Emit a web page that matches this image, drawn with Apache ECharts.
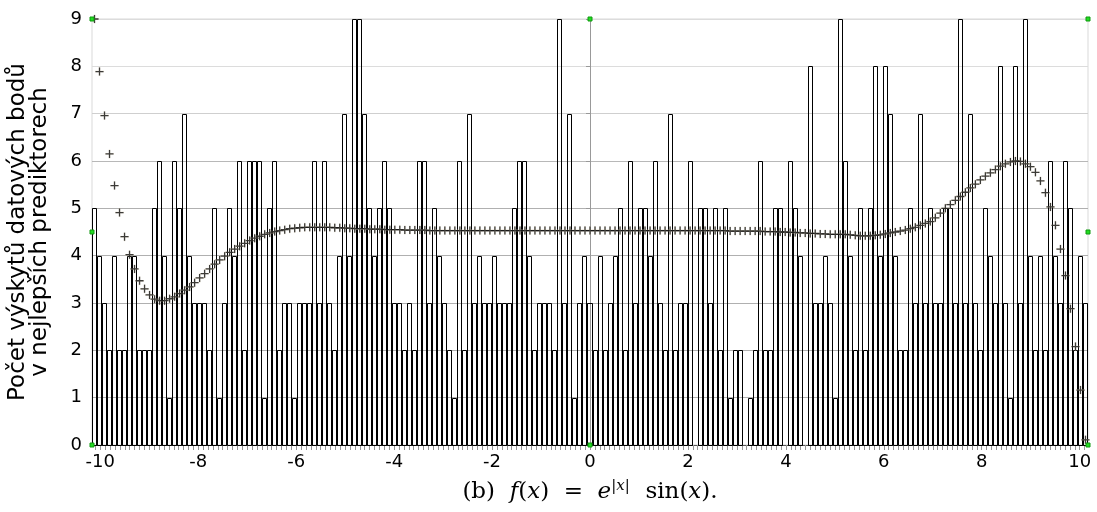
<!DOCTYPE html>
<html>
<head>
<meta charset="utf-8">
<script src="https://cdn.jsdelivr.net/npm/echarts@6/dist/echarts.min.js"></script>
<style>
html,body{margin:0;padding:0;background:#fff;}
#chart{width:1097px;height:512px;}
</style>
</head>
<body>
<div id="chart"></div>
<script>
// ---- data ----
const X_MIN = -10.17;
const X_MAX = 10.17;
const BIN_COUNT = 199;
const xTickLabels = [-10, -8, -6, -4, -2, 0, 2, 4, 6, 8, 10];
const yTickLabels = [0, 1, 2, 3, 4, 5, 6, 7, 8, 9];

// histogram counts per bin (left to right)
const binCounts = [
  5,4,3,2,4,2,2,4,4,2,2,2,5,6,4,1,6,
  5,7,4,3,3,3,2,5,1,3,5,4,6,2,6,6,
  6,1,5,6,2,3,3,1,3,3,3,6,3,6,3,2,4,
  7,4,9,9,7,5,4,5,6,5,3,3,2,3,2,6,6,
  3,5,4,3,2,1,6,2,7,3,4,3,3,4,3,3,
  3,5,6,6,4,2,3,3,3,2,9,3,7,1,3,4,3,
  2,4,2,3,4,5,2,6,3,5,5,4,6,3,2,7,2,
  3,3,6,0,5,5,3,5,2,5,1,2,2,0,1,2,6,
  2,2,5,5,0,6,5,4,0,8,3,3,4,3,1,9,6,
  4,2,5,2,5,8,4,8,7,4,2,2,5,3,7,3,5,
  3,3,5,5,3,9,3,7,3,2,5,4,3,8,3,1,8,
  3,9,4,2,4,2,6,4,3,6,5,2,4,3
];

// fitted curve value at each bin centre (the "+" markers)
const curveValues = [
  9.0,7.89,6.96,6.15,5.48,4.91,4.40,4.02,3.72,3.47,3.30,3.17,3.08,3.05,3.05,3.09,3.13,
  3.20,3.27,3.34,3.43,3.53,3.62,3.72,3.82,3.91,3.99,4.07,4.14,4.20,4.26,4.32,4.37,4.41,
  4.45,4.48,4.51,4.53,4.55,4.57,4.58,4.59,4.60,4.60,4.60,4.60,4.60,4.60,4.59,4.59,
  4.58,4.58,4.57,4.57,4.57,4.56,4.56,4.56,4.55,4.55,4.55,4.55,4.54,4.54,4.54,4.54,4.54,
  4.53,4.53,4.53,4.53,4.53,4.53,4.53,4.53,4.53,4.53,4.53,4.53,4.53,4.53,4.53,4.53,4.53,4.53,
  4.53,4.53,4.53,4.53,4.53,4.53,4.53,4.53,4.53,4.53,4.53,4.53,4.53,4.53,4.53,4.53,4.53,4.53,
  4.53,4.53,4.53,4.53,4.53,4.53,4.53,4.53,4.53,4.53,4.53,4.53,4.53,4.53,4.53,4.53,4.53,4.53,
  4.53,4.53,4.53,4.53,4.53,4.53,4.52,4.52,4.52,4.52,4.52,4.52,4.52,4.51,4.51,
  4.51,4.50,4.50,4.49,4.49,4.48,4.48,4.47,4.47,4.46,4.46,4.45,4.45,4.45,
  4.45,4.44,4.43,4.42,4.42,4.42,4.43,4.44,4.46,4.48,4.50,4.52,4.54,4.57,4.60,4.64,4.68,4.72,
  4.80,4.90,5.00,5.08,5.17,5.25,5.34,5.43,5.51,5.60,5.68,5.75,5.82,5.89,5.94,
  5.98,6.00,5.99,5.94,5.88,5.76,5.58,5.33,5.03,4.64,4.14,3.58,2.88,2.08,1.16,0.11
];

const yAxisTitle = 'Počet výskytů datových bodů\nv nejlepších prediktorech';

// ---- build series data from the arrays ----
const binW = (X_MAX - X_MIN) / BIN_COUNT;
const barData = binCounts.map((c, i) => [X_MIN + i * binW, X_MIN + (i + 1) * binW, c]);
const curveData = curveValues.map((v, i) => [X_MIN + (i + 0.5) * binW, v]);
const minorTicks = [];
for (let k = -101; k <= 101; k++) minorTicks.push(+(k * 0.1).toFixed(2));

const chart = echarts.init(document.getElementById('chart'), null, {renderer: 'canvas'});
const plusPath = 'path://M-0.8,-5H0.8V-0.8H5V0.8H0.8V5H-0.8V0.8H-5V-0.8H-0.8Z';

chart.setOption({
  animation: false,
  backgroundColor: '#fff',
  grid: {left: 92, right: 9, top: 19, bottom: 67, outerBoundsMode: 'none', containLabel: false,
    show: true, borderColor: '#d9d9d9', borderWidth: 1},
  xAxis: [{
    type: 'value', min: X_MIN, max: X_MAX,
    axisLine: {show: true, onZero: false, lineStyle: {color: '#555', width: 1}},
    axisTick: {show: true, customValues: minorTicks, length: 5, inside: false, lineStyle: {color: '#999'}},
    axisLabel: {customValues: xTickLabels, color: '#000', fontFamily: 'DejaVu Sans', fontSize: 18, margin: 8,
      formatter: v => String(v)},
    splitLine: {show: false}
  }],
  yAxis: {
    type: 'value', min: 0, max: 9, interval: 1,
    name: yAxisTitle, nameLocation: 'middle', nameRotate: 90, nameGap: 41,
    nameTextStyle: {color: '#000', fontFamily: 'DejaVu Sans', fontSize: 23, lineHeight: 22},
    axisLine: {show: true, lineStyle: {color: '#999'}},
    axisTick: {show: true, length: 4, lineStyle: {color: '#999'}},
    axisLabel: {color: '#000', fontFamily: 'DejaVu Sans', fontSize: 18, margin: 10,
      formatter: v => yTickLabels.indexOf(v) >= 0 ? String(v) : ''},
    splitLine: {show: true, lineStyle: {color: ['#b0b0b0','#b0b0b0','#b0b0b0','#b0b0b0','#b0b0b0','#b0b0b0','#b8b8b8','#cfcfcf','#dcdcdc','#dcdcdc'], width: 1}}
  },
  series: [
    {
      type: 'custom',
      data: barData,
      encode: {x: [0, 1], y: 2},
      z: 2,
      renderItem: function (params, api) {
        const c = api.value(2);
        if (!c) return null;
        const p0 = api.coord([api.value(0), c]);
        const p1 = api.coord([api.value(1), 0]);
        const x0 = Math.round(p0[0]) + 0.5, x1 = Math.round(p1[0]) + 0.5;
        const y0 = Math.round(p0[1]) + 0.5, y1 = Math.round(p1[1]) + 0.5;
        return {
          type: 'rect',
          shape: {x: x0, y: y0, width: x1 - x0 - 1, height: y1 - y0},
          style: {fill: 'rgba(255,255,255,0)', stroke: '#000', lineWidth: 1}
        };
      }
    },
    {
      type: 'scatter', data: curveData, z: 3,
      symbol: plusPath, symbolSize: 9,
      itemStyle: {color: '#d6cbb0', opacity: 0.6}
    },
    {
      type: 'scatter', data: curveData, z: 4,
      symbol: plusPath, symbolSize: 8,
      itemStyle: {color: '#111'}
    }
  ]
});

// caption centred under the plot, and selection handles (green squares)
const tl = chart.convertToPixel({gridIndex: 0}, [X_MIN, 9]);
const br = chart.convertToPixel({gridIndex: 0}, [X_MAX, 0]);
const mx = (tl[0] + br[0]) / 2, my = (tl[1] + br[1]) / 2;
const pts = [[tl[0], tl[1]], [mx, tl[1]], [br[0], tl[1]], [tl[0], my], [br[0], my], [tl[0], br[1]], [mx, br[1]], [br[0], br[1]]];
const handles = pts.map(p => ({
  type: 'rect', z: 100,
  shape: {x: Math.round(p[0]) - 2, y: Math.round(p[1]) - 2, width: 4, height: 4},
  style: {fill: '#22dd22', stroke: '#119911', lineWidth: 1}
}));
handles.push({
  type: 'text', z: 100, x: mx, y: 492,
  style: {
    text: '{n|(b)  }{i|f}{n|(}{i|x}{n|)  =  }{i|e}{s||x|}{n|  sin(}{i|x}{n|).}',
    align: 'center', verticalAlign: 'middle',
    rich: {
      n: {fontFamily: 'DejaVu Serif', fontSize: 23, color: '#000'},
      i: {fontFamily: 'DejaVu Serif', fontSize: 23, fontStyle: 'italic', color: '#000'},
      s: {fontFamily: 'DejaVu Serif', fontSize: 15, fontStyle: 'italic', color: '#000', verticalAlign: 'top', padding: [0, 1, 11, 0]}
    }
  }
});
chart.setOption({graphic: handles});
</script>
</body>
</html>
